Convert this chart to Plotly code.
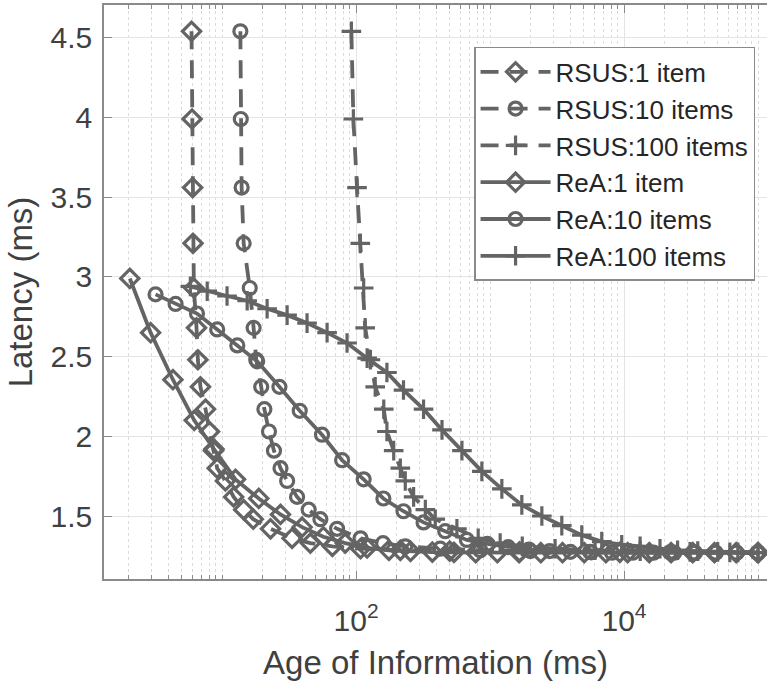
import plotly.graph_objects as go

# RSUS curves share the same latency grid (ms)
rsus_latency = [4.54, 3.99, 3.56, 3.21, 2.93, 2.68, 2.48, 2.31, 2.17, 2.03, 1.91, 1.80, 1.72,
                1.62, 1.54, 1.48, 1.42, 1.36, 1.33, 1.31, 1.295, 1.285, 1.28, 1.275, 1.272, 1.27]

rsus1_aoi = [5.92, 5.97, 6.03, 6.07, 6.16, 6.45, 6.6, 6.9, 7.53, 8.06, 8.64, 9.2, 10.6,
             12.2, 14.5, 17.1, 23, 33.3, 45.6, 66.6, 108, 214, 500, 1660, 9300, 100000]
rsus10_aoi = [13.7, 13.8, 14.0, 14.5, 16.1, 17.2, 18.0, 19.6, 20.7, 22.4, 24.4, 27.3, 30.6,
              36.3, 44.3, 54.2, 72.2, 108, 159, 233, 425, 845, 2000, 5570, 22000, 100000]
rsus100_aoi = [92.3, 95.5, 101.7, 107.6, 114, 117, 128, 139, 161, 170, 191, 214, 233,
               269, 329, 390, 566, 816, 1190, 1740, 3060, 6080, 13200, 31100, 61600, 100000]

rea1_aoi = [2.05, 2.93, 4.3, 6.2, 8.7, 12.6, 18.8, 27.3, 39.6, 57, 83, 121, 176, 255, 371,
            538, 782, 1135, 1648, 2393, 3475, 5047, 7328, 10640, 15450, 22440, 32580,
            47320, 68710, 100000]
rea1_lat = [2.99, 2.65, 2.355, 2.10, 1.92, 1.73, 1.61, 1.51, 1.43, 1.37, 1.33, 1.30, 1.285,
            1.278, 1.274, 1.272, 1.27, 1.27, 1.27, 1.27, 1.27, 1.27, 1.27, 1.27, 1.27, 1.27,
            1.27, 1.27, 1.27, 1.27]

rea10_aoi = [3.19, 4.5, 6.5, 9.2, 13, 18.3, 26.8, 38, 55.7, 78.7, 114, 160, 226, 319, 463,
             672, 955, 1365, 1950, 2786, 3980, 5690, 8130, 11610, 16600, 23700, 33900,
             48400, 69200, 98900]
rea10_lat = [2.89, 2.83, 2.77, 2.67, 2.57, 2.47, 2.31, 2.16, 2.01, 1.85, 1.73, 1.61, 1.53,
             1.46, 1.405, 1.35, 1.325, 1.305, 1.29, 1.28, 1.275, 1.272, 1.27, 1.27, 1.27,
             1.27, 1.27, 1.27, 1.27, 1.27]

rea100_aoi = [5.8, 7.75, 10.9, 15.4, 21.7, 30.6, 43.1, 60.8, 85.7, 121, 170, 226, 319, 438,
              617, 869, 1225, 1727, 2436, 3433, 4838, 6820, 9610, 13180, 18550, 25100,
              35500, 50000, 70700, 100000]
rea100_lat = [2.94, 2.91, 2.88, 2.85, 2.80, 2.76, 2.71, 2.65, 2.585, 2.49, 2.40, 2.29, 2.17,
              2.04, 1.91, 1.78, 1.67, 1.57, 1.50, 1.44, 1.38, 1.34, 1.32, 1.31, 1.295, 1.285,
              1.28, 1.275, 1.272, 1.27]

series = [
    ("RSUS:1 item", rsus1_aoi, rsus_latency, "dash", "diamond-open"),
    ("RSUS:10 items", rsus10_aoi, rsus_latency, "dash", "circle-open"),
    ("RSUS:100 items", rsus100_aoi, rsus_latency, "dash", "cross-thin-open"),
    ("ReA:1 item", rea1_aoi, rea1_lat, "solid", "diamond-open"),
    ("ReA:10 items", rea10_aoi, rea10_lat, "solid", "circle-open"),
    ("ReA:100 items", rea100_aoi, rea100_lat, "solid", "cross-thin-open"),
]

col = "#646464"
sizes = {"diamond-open": 14, "circle-open": 13, "cross-thin-open": 14}

fig = go.Figure()
for name, x, y, dash, sym in series:
    fig.add_trace(go.Scatter(
        x=x, y=y, name=name, mode="lines+markers",
        line=dict(color=col, width=3.8, dash="18px,11px" if dash == "dash" else "solid"),
        marker=dict(symbol=sym, size=sizes[sym], color=col, line=dict(color=col, width=3.2)),
    ))

minor_x = []
for e in range(0, 6):
    for m in range(1, 10):
        v = m * 10 ** e
        if v not in (100, 10000):
            minor_x.append(v)

txt = "#404040"
axcol = "#8a8a8a"
fam = "Liberation Sans, Arial, sans-serif"

fig.update_layout(
    width=767, height=686,
    margin=dict(l=104, r=0, t=5, b=107),
    plot_bgcolor="white", paper_bgcolor="white",
    font=dict(family=fam, color=txt),
    showlegend=True,
    legend=dict(
        x=0.982, xanchor="right", y=0.927, yanchor="top",
        bordercolor=axcol, borderwidth=1.5, bgcolor="white",
        font=dict(size=26, family=fam, color="#262626"),
        itemwidth=70, tracegroupgap=0,
    ),
    xaxis=dict(
        type="log", range=[0.119, 5.067], automargin=False,
        tickvals=[100, 10000], ticktext=["10<sup>2</sup>", "10<sup>4</sup>"],
        ticks="inside", ticklen=8, tickcolor=axcol, tickwidth=1,
        ticklabelstandoff=14,
        showline=True, linecolor=axcol, linewidth=1.5, mirror="ticks",
        showgrid=True, gridcolor="#e4e4e4", gridwidth=1,
        tickfont=dict(size=30, color=txt),
        title=dict(text="Age of Information (ms)", font=dict(size=33, color=txt), standoff=15),
        minor=dict(tickvals=minor_x, ticks="inside", ticklen=4, tickcolor=axcol,
                   showgrid=True, gridcolor="#dcdcdc", griddash="dot", gridwidth=1),
        zeroline=False,
    ),
    yaxis=dict(
        range=[1.105, 4.705], automargin=False,
        tickvals=[1.5, 2, 2.5, 3, 3.5, 4, 4.5],
        ticktext=["1.5", "2", "2.5", "3", "3.5", "4", "4.5"],
        ticks="inside", ticklen=8, tickcolor=axcol,
        ticklabelstandoff=4,
        showline=True, linecolor=axcol, linewidth=1.5,
        showgrid=True, gridcolor="#e4e4e4", gridwidth=1,
        tickfont=dict(size=30, color=txt),
        title=dict(text="Latency (ms)", font=dict(size=33, color=txt), standoff=8),
        zeroline=False,
    ),
)

# the page's default body margin would push the figure 8px down and right
fig.write_html("out.html", config={"displayModeBar": False},
               post_script="document.body.style.margin = '0';")
